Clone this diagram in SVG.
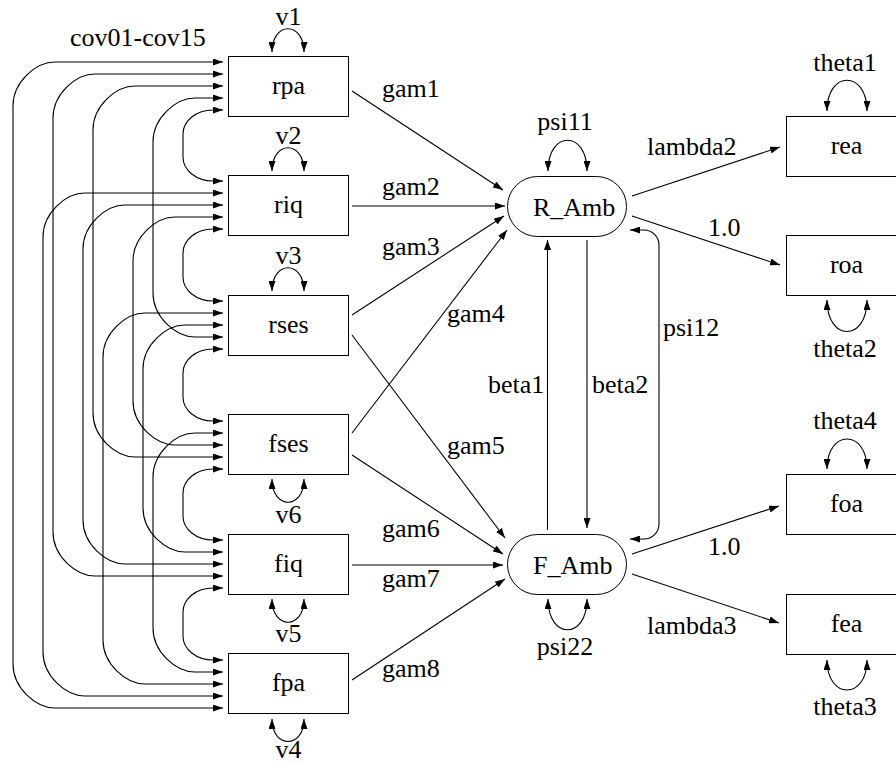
<svg xmlns="http://www.w3.org/2000/svg" width="896" height="764" viewBox="0 0 896 764">
<defs>
<marker id="ah" viewBox="0 0 10 7" refX="10" refY="3.5" markerWidth="10" markerHeight="7" markerUnits="userSpaceOnUse" orient="auto-start-reverse">
<path d="M0,0 L10,3.5 L0,7 z" fill="#000"/>
</marker>
<style>
.t{font-family:'Liberation Serif','Times New Roman','DejaVu Serif',serif;font-size:26px;fill:#000}
.c{text-anchor:middle}
.box{fill:#fff;stroke:#000;stroke-width:1}
.line{fill:none;stroke:#000;stroke-width:1.1;marker-end:url(#ah)}
.dbl{fill:none;stroke:#000;stroke-width:1.1;marker-start:url(#ah);marker-end:url(#ah)}
</style>
</defs>
<rect width="896" height="764" fill="#fff"/>

<g id="connectors">
<path class="dbl" d="M223,62 L55,62 C36.2,62 13,81.7 13,106 L13,664 C13,688.3 36.2,708 55,708 L223,708"/>
<path class="dbl" d="M223,74 L95,74 C76.2,74 53,93.7 53,118 L53,532 C53,556.3 76.2,576 95,576 L223,576"/>
<path class="dbl" d="M223,86 L135,86 C116.2,86 93,105.7 93,130 L93,413 C93,437.3 116.2,457 135,457 L223,457"/>
<path class="dbl" d="M223,98 L195,98 C176.2,98 153,117.7 153,142 L153,293 C153,317.3 176.2,337 195,337 L223,337"/>
<path class="dbl" d="M223,110 L213,110 C196.4,110 183,120.7 183,134 L183,157 C183,170.3 196.4,181 213,181 L223,181"/>
<path class="dbl" d="M223,193 L85,193 C66.2,193 43,212.7 43,237 L43,652 C43,676.3 66.2,696 85,696 L223,696"/>
<path class="dbl" d="M223,205 L125,205 C106.2,205 83,224.7 83,249 L83,520 C83,544.3 106.2,564 125,564 L223,564"/>
<path class="dbl" d="M223,217 L175,217 C156.2,217 133,236.7 133,261 L133,401 C133,425.3 156.2,445 175,445 L223,445"/>
<path class="dbl" d="M223,229 L213,229 C196.4,229 183,239.7 183,253 L183,277 C183,290.3 196.4,301 213,301 L223,301"/>
<path class="dbl" d="M223,313 L145,313 C126.2,313 103,332.7 103,357 L103,640 C103,664.3 126.2,684 145,684 L223,684"/>
<path class="dbl" d="M223,325 L185,325 C166.2,325 143,344.7 143,369 L143,508 C143,532.3 166.2,552 185,552 L223,552"/>
<path class="dbl" d="M223,349 L213,349 C196.4,349 183,359.7 183,373 L183,397 C183,410.3 196.4,421 213,421 L223,421"/>
<path class="dbl" d="M223,433 L195,433 C176.2,433 153,452.7 153,477 L153,628 C153,652.3 176.2,672 195,672 L223,672"/>
<path class="dbl" d="M223,469 L213,469 C196.4,469 183,479.7 183,493 L183,516 C183,529.3 196.4,540 213,540 L223,540"/>
<path class="dbl" d="M223,588 L213,588 C196.4,588 183,598.7 183,612 L183,636 C183,649.3 196.4,660 213,660 L223,660"/>
<path class="dbl" d="M272,52 C272,21 304,21 304,52"/>
<path class="dbl" d="M272,171 C272,140 304,140 304,171"/>
<path class="dbl" d="M272,291 C272,260 304,260 304,291"/>
<path class="dbl" d="M272,479 C272,510 304,510 304,479"/>
<path class="dbl" d="M272,599 C272,630 304,630 304,599"/>
<path class="dbl" d="M272,719 C272,749 304,749 304,719"/>
<path class="line" d="M352,91 L503,190"/>
<path class="line" d="M352,206 L505,206"/>
<path class="line" d="M352,315 L504,216"/>
<path class="line" d="M352,433 L507,230"/>
<path class="line" d="M352,335 L505,538"/>
<path class="line" d="M352,455 L503,554"/>
<path class="line" d="M352,565 L503,565"/>
<path class="line" d="M352,680 L505,579"/>
<path class="line" d="M547.5,530 L547.5,240"/>
<path class="line" d="M587,240 L587,528"/>
<path class="dbl" d="M630,230 L644,230 C652.3,230 659,236.7 659,245 L659,524 C659,532.3 652.3,539 644,539 L630,539"/>
<path class="dbl" d="M548,171 C548,130 587,130 587,171"/>
<path class="dbl" d="M548,599 C548,640 587,640 587,599"/>
<path class="line" d="M632,196 L780,147"/>
<path class="line" d="M632,216 L780,265"/>
<path class="line" d="M632,554 L779,506"/>
<path class="line" d="M632,574 L779,623"/>
<path class="dbl" d="M827,111 C827,70 867,70 867,111"/>
<path class="dbl" d="M827,300 C827,342 867,342 867,300"/>
<path class="dbl" d="M827,469 C827,429 867,429 867,469"/>
<path class="dbl" d="M827,660 C827,700 867,700 867,660"/>
</g>

<g id="labels" class="t" font-family="Liberation Serif, Times New Roman, serif" font-size="26">
<text x="70" y="46">cov01-cov15</text>
<text class="c" x="288.5" y="25">v1</text>
<text class="c" x="288.5" y="144">v2</text>
<text class="c" x="288.5" y="264">v3</text>
<text class="c" x="288.5" y="523">v6</text>
<text class="c" x="288.5" y="642">v5</text>
<text class="c" x="288.5" y="758">v4</text>
<text x="382" y="97">gam1</text>
<text x="382" y="195">gam2</text>
<text x="382" y="255">gam3</text>
<text x="447" y="322">gam4</text>
<text x="447" y="454">gam5</text>
<text x="382" y="537">gam6</text>
<text x="382" y="587">gam7</text>
<text x="382" y="677">gam8</text>
<text x="488" y="393">beta1</text>
<text x="592" y="393">beta2</text>
<text x="663" y="336">psi12</text>
<text class="c" x="565" y="130">psi11</text>
<text class="c" x="565" y="655">psi22</text>
<text x="647" y="155">lambda2</text>
<text x="708" y="236">1.0</text>
<text x="708" y="555">1.0</text>
<text x="647" y="634">lambda3</text>
<text class="c" x="845" y="71">theta1</text>
<text class="c" x="845" y="357">theta2</text>
<text class="c" x="845" y="429">theta4</text>
<text class="c" x="845" y="715">theta3</text>
</g>

<g class="t" font-family="Liberation Serif, Times New Roman, serif" font-size="26">
<g id="rpa"><rect class="box" x="228.5" y="56.5" width="120" height="60"/><text class="c" x="288.5" y="94">rpa</text></g>
<g id="riq"><rect class="box" x="228.5" y="175.5" width="120" height="60"/><text class="c" x="288.5" y="213">riq</text></g>
<g id="rses"><rect class="box" x="228.5" y="295.5" width="120" height="60"/><text class="c" x="288.5" y="333">rses</text></g>
<g id="fses"><rect class="box" x="228.5" y="414.5" width="120" height="60"/><text class="c" x="288.5" y="452">fses</text></g>
<g id="fiq"><rect class="box" x="228.5" y="534.5" width="120" height="60"/><text class="c" x="288.5" y="572">fiq</text></g>
<g id="fpa"><rect class="box" x="228.5" y="653.5" width="120" height="60"/><text class="c" x="288.5" y="691">fpa</text></g>
<g id="R_Amb"><rect class="box" x="507.5" y="176.5" width="119" height="60" rx="30" ry="30"/><text x="533" y="216">R_Amb</text></g>
<g id="F_Amb"><rect class="box" x="507.5" y="534.5" width="119" height="60" rx="30" ry="30"/><text x="533" y="574">F_Amb</text></g>
<g id="rea"><rect class="box" x="786.5" y="116.5" width="120" height="60"/><text class="c" x="846.5" y="154">rea</text></g>
<g id="roa"><rect class="box" x="786.5" y="235.5" width="120" height="60"/><text class="c" x="846.5" y="273">roa</text></g>
<g id="foa"><rect class="box" x="786.5" y="474.5" width="120" height="60"/><text class="c" x="846.5" y="512">foa</text></g>
<g id="fea"><rect class="box" x="786.5" y="594.5" width="120" height="60"/><text class="c" x="846.5" y="632">fea</text></g>
</g>
</svg>
